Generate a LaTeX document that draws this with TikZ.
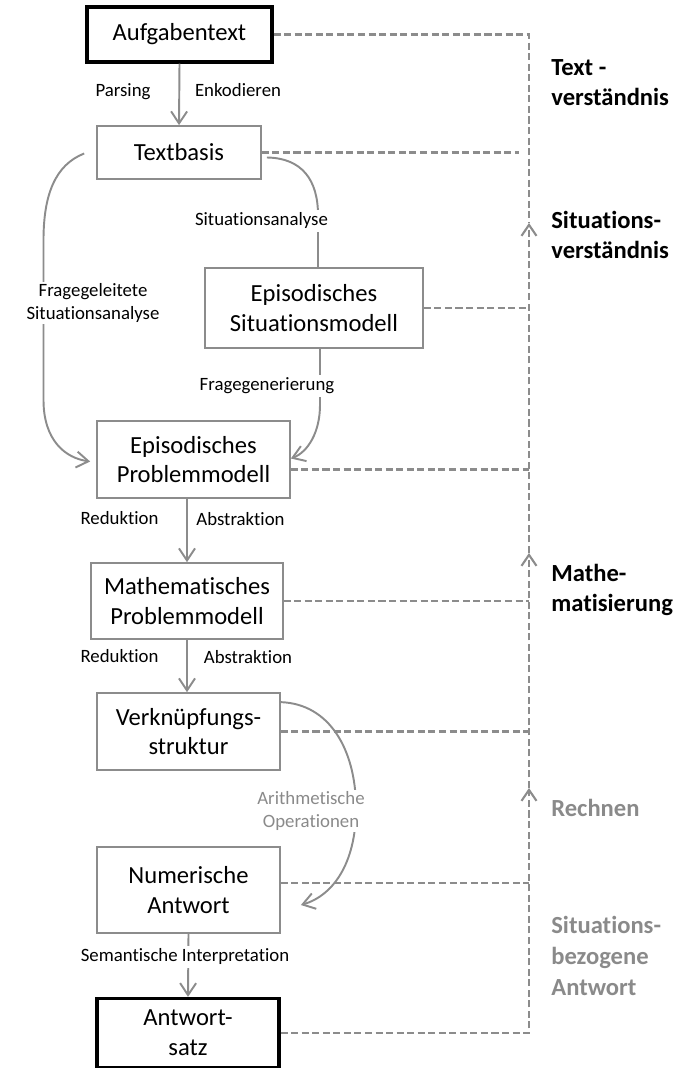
\documentclass[tikz,border=0pt]{standalone}
\usepackage{fontspec}
\setmainfont{Carlito}[Ligatures={NoCommon,NoRare}]
\usetikzlibrary{arrows.meta,calc}
\definecolor{boxgray}{RGB}{140,140,140}
\definecolor{txtgray}{RGB}{138,138,138}

\begin{document}
\begin{tikzpicture}[x=0.02cm,y=-0.02cm]
        \tikzset{
          stepbox/.style={draw=boxgray,line width=1pt,inner sep=0mm,align=center,font=\fontsize{14}{17}\selectfont},
          endbox/.style={stepbox,draw=black,line width=1.9pt},
          curveline/.style={draw=boxgray,line width=1.1pt},
          flow/.style={curveline,-{Straight Barb[length=2.4mm,width=3.2mm]}},
          link/.style={draw=boxgray,line width=1.2pt,dash pattern=on 4pt off 2pt},
          uplink/.style={link,-{Straight Barb[length=2.2mm,width=3mm]}},
          lbl/.style={font=\fontsize{10.7}{13}\selectfont,inner sep=0.4mm,align=center},
          lblone/.style={lbl,text height=1.6ex,text depth=0.45ex},
          phase/.style={anchor=west,align=left,inner sep=0mm,font=\fontsize{14}{17.5}\selectfont\bfseries},
        }
        \useasboundingbox (0,0) rectangle (683,1068);
        %BOXES
        \node[endbox,minimum width=3.7cm,minimum height=1.1cm] (aufg) at (179.5,34.5) {Aufgabentext};
        \node[stepbox,minimum width=3.28cm,minimum height=1.06cm] (tb) at (179,152.5) {Textbasis};
        \node[stepbox,minimum width=4.36cm,minimum height=1.6cm] (esm) at (314,308) {Episodisches\\Situationsmodell};
        \node[stepbox,minimum width=3.86cm,minimum height=1.54cm] (epm) at (193.5,459.5) {Episodisches\\Problemmodell};
        \node[stepbox,minimum width=3.83cm,minimum height=1.52cm] (mpm) at (187,601) {Mathematisches\\Problemmodell};
        \node[stepbox,minimum width=3.66cm,minimum height=1.54cm] (vs) at (188.5,731.5) {Verknüpfungs-\\struktur};
        \node[stepbox,minimum width=3.66cm,minimum height=1.72cm] (na) at (188.5,890) {Numerische\\Antwort};
        \node[endbox,minimum width=3.64cm,minimum height=1.38cm] (as) at (188,1033) {Antwort-\\satz};

        %MAIN FLOW
        \draw[flow] (aufg.south) -- (tb.north);
        \draw[flow] (mpm.north |- epm.south) -- (mpm.north);
        \draw[flow] (mpm.south) -- (mpm.south |- vs.north);
        \draw[flow] (na.south) -- (as.north);
        \node[lblone] (parse) at (123,92) {Parsing};
        \node[lblone] (enc) at (238,92) {Enkodieren};
        \node[lblone] (red1) at (119.5,520) {Reduktion};
        \node[lblone] (abs1) at (240.5,521) {Abstraktion};
        \node[lblone] (red2) at (119.5,658) {Reduktion};
        \node[lblone] (abs2) at (248,659) {Abstraktion};
        \node[lblone,fill=white] (sem) at (185,957) {Semantische Interpretation};

        %SIDE PATHS
        \draw[flow] ($(tb.west)+(-12,1)$) .. controls (55,165) and (43.5,195) .. (43.5,240)
          -- (43.5,400) .. controls (43.5,440) and (65,458) .. ($(epm.west)+(-6,2)$);
        \draw[curveline] ($(tb.east)+(5,5)$) .. controls (302,158) and (318,180) .. (318,215) -- ($(esm.north)+(4,0)$);
        \draw[flow] ($(esm.south)+(6,0)$) -- (320,405) .. controls (320,432) and (308,452) .. ($(epm.east)+(0,-1)$);
        \draw[flow] ($(vs.north east)+(0,10)$) .. controls (330,704) and (355,750) .. (356,805)
          .. controls (357,860) and (335,895) .. ($(na.east)+(20,15)$);
        \node[lbl,fill=white] (fsa) at (93,303) {Fragegeleitete\\Situationsanalyse};
        \node[lblone,fill=white] (sa) at (261.5,221) {Situationsanalyse};
        \node[lblone,fill=white] (fg) at (267,386) {Fragegenerierung};
        \node[lbl,fill=white,text=txtgray] (arith) at (311,811) {Arithmetische\\Operationen};

        %DASHED LINKS
        \coordinate (vtop) at (529,34.5);
        \coordinate (up1) at (529,223);
        \coordinate (up2) at (529,553);
        \coordinate (up3) at (529,788);
        \draw[link] (aufg.east) -- (vtop) -- (up1);
        \draw[uplink] (up2) -- (up1);
        \draw[uplink] (up3) -- (up2);
        \draw[uplink] (as.east) -- (as.east -| vtop) -- (up3);
        \draw[link] (tb.east) -- ($(tb.east -| vtop)+(-10,0)$);
        \draw[link] (esm.east) -- (esm.east -| vtop);
        \draw[link] ($(epm.east)+(0,10)$) -- ($(epm.east -| vtop)+(0,10)$);
        \draw[link] (mpm.east) -- (mpm.east -| vtop);
        \draw[link] (vs.east) -- (vs.east -| vtop);
        \draw[link] ($(na.east)+(0,-7)$) -- ($(na.east -| vtop)+(0,-7)$);

        %PHASES
        \node[phase] (ph1) at (551,82.5) {Text -\\verständnis};
        \node[phase] (ph2) at (551,235) {Situations-\\verständnis};
        \node[phase] (ph3) at (551,590) {Mathe-\\matisierung};
        \node[phase,text=txtgray] (ph4) at (551,808) {Rechnen};
        \node[phase,text=txtgray] (ph5) at (551,956) {Situations-\\bezogene\\Antwort};
    \end{tikzpicture}
\end{document}
